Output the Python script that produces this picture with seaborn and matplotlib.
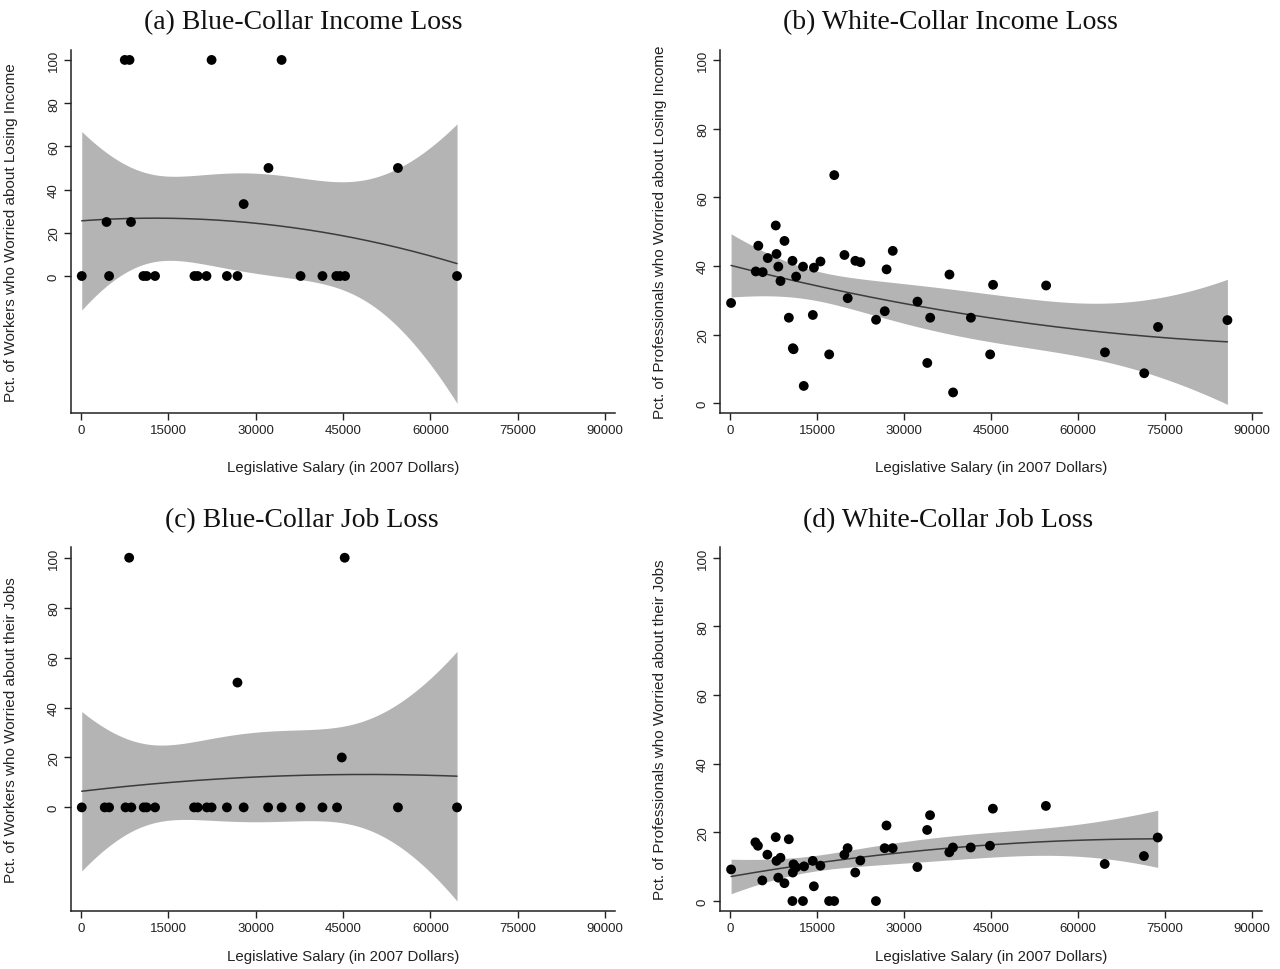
import numpy as np
import pandas as pd
import matplotlib
matplotlib.use("Agg")
import matplotlib.pyplot as plt
import seaborn as sns

# ---- data (salary in 2007 dollars, pct worried) ----
# (a) blue-collar income loss
bc_income_salary = [125, 4384, 4823, 7516, 8330, 8580, 10710, 11273, 12714, 19478,
                    20042, 21545, 22421, 25052, 26868, 27933, 32192, 34447, 37704,
                    41461, 43841, 44468, 45345, 54426, 64572]
bc_income_pct = [0, 25, 0, 100, 100, 25, 0, 0, 0, 0,
                 0, 0, 100, 0, 0, 33.3, 50, 100, 0,
                 0, 0, 0, 0, 50, 0]

# (b) white-collar income loss
wc_income_salary = [188, 4447, 4885, 5637, 6514, 7891, 8017, 8330, 8706, 9395,
                    10146, 10773, 10835, 10960, 11399, 12589, 12714, 14280, 14468,
                    15595, 17098, 17975, 19729, 20292, 21608, 22484, 25177, 26680,
                    26993, 28058, 32317, 34008, 34509, 37828, 38455, 41524, 44844,
                    45345, 54489, 64635, 71399, 73779, 85741]
wc_income_pct = [29.2, 38.4, 45.9, 38.2, 42.3, 51.8, 43.5, 39.8, 35.6, 47.3,
                 24.9, 41.5, 16.0, 15.7, 36.9, 39.8, 5.0, 25.7, 39.5,
                 41.3, 14.2, 66.5, 43.2, 30.6, 41.5, 41.1, 24.3, 26.8,
                 39.0, 44.4, 29.6, 11.7, 24.9, 37.5, 3.1, 24.9, 14.2,
                 34.5, 34.3, 14.8, 8.7, 22.2, 24.2]

# (c) blue-collar job loss
bc_job_salary = [125, 4071, 4823, 7641, 8267, 8643, 10773, 11273, 12714, 19415,
                 20042, 21608, 22422, 25052, 26868, 27933, 32129, 34447, 37704,
                 41461, 43967, 44781, 45282, 54426, 64572]
bc_job_pct = [0, 0, 0, 0, 100, 0, 0, 0, 0, 0,
              0, 0, 0, 0, 50, 0, 0, 0, 0,
              0, 0, 20, 100, 0, 0]

# (d) white-collar job loss
wc_job_salary = [188, 4381, 4819, 5570, 6447, 7886, 8011, 8324, 8700, 9388,
                 10139, 10765, 10828, 10953, 11391, 12580, 12768, 14270, 14458,
                 15584, 17086, 17962, 19715, 20278, 21592, 22469, 25160, 26662,
                 26975, 28039, 32295, 33985, 34485, 37803, 38428, 41495, 44812,
                 45313, 54451, 64590, 71349, 73727]
wc_job_pct = [9.2, 17.1, 16.1, 6.0, 13.5, 18.6, 11.7, 6.8, 12.6, 5.2,
              18.0, 0, 8.3, 10.7, 9.8, 0, 10.1, 11.7, 4.3,
              10.3, 0, 0, 13.5, 15.4, 8.3, 11.8, 0, 15.4,
              22.0, 15.4, 9.9, 20.7, 25.0, 14.2, 15.6, 15.6, 16.1,
              26.9, 27.7, 10.8, 13.1, 18.5]

titles = ["(a) Blue-Collar Income Loss", "(b) White-Collar Income Loss",
          "(c) Blue-Collar Job Loss", "(d) White-Collar Job Loss"]
ylabels = ["Pct. of Workers who Worried about Losing Income",
           "Pct. of Professionals who Worried about Losing Income",
           "Pct. of Workers who Worried about their Jobs",
           "Pct. of Professionals who Worried about their Jobs"]
xlabel = "Legislative Salary (in 2007 Dollars)"
xticks = [0, 15000, 30000, 45000, 60000, 75000, 90000]
yticks = [0, 20, 40, 60, 80, 100]


def t_quantile(df, z=1.959964):
    # Cornish-Fisher expansion of the 97.5% t quantile
    return (z + (z**3 + z) / (4 * df)
            + (5 * z**5 + 16 * z**3 + 3 * z) / (96 * df**2)
            + (3 * z**7 + 19 * z**5 + 17 * z**3 - 15 * z) / (384 * df**3))


def quad_fit_ci(x, y, n=300):
    """quadratic OLS fit with 95% CI of the mean prediction (like qfitci)"""
    x = np.asarray(x, float) / 1e4
    y = np.asarray(y, float)
    X = np.column_stack([np.ones_like(x), x, x**2])
    beta = np.linalg.lstsq(X, y, rcond=None)[0]
    resid = y - X @ beta
    dof = len(x) - 3
    cov = (resid @ resid / dof) * np.linalg.inv(X.T @ X)
    g = np.linspace(x.min(), x.max(), n)
    G = np.column_stack([np.ones_like(g), g, g**2])
    fit = G @ beta
    se = np.sqrt(np.einsum("ij,jk,ik->i", G, cov, G))
    t = t_quantile(dof)
    return pd.DataFrame({"salary": g * 1e4, "fit": fit,
                         "lo": fit - t * se, "hi": fit + t * se})


sns.set_style("ticks")
plt.rcParams["font.family"] = ["Liberation Sans", "DejaVu Sans"]

fig = plt.figure(figsize=(12.8, 9.7), dpi=100)
W, H = 1280.0, 970.0

# axes boxes in pixels: left, top, right, bottom
boxes = [(71, 51, 615, 414), (720, 51, 1262, 414),
         (71, 548, 615, 912), (720, 548, 1262, 912)]
ylims = [(-63.4, 104.6), (-2.9, 103.0), (-41.5, 104.3), (-2.9, 103.1)]
title_pos = [(303, 23), (950, 23), (302, 521), (948, 521)]
xlabel_pads = [17, 17, 11, 11]
panels = [(bc_income_salary, bc_income_pct), (wc_income_salary, wc_income_pct),
          (bc_job_salary, bc_job_pct), (wc_job_salary, wc_job_pct)]

for i, (xs, ys) in enumerate(panels):
    l, t, r, b = boxes[i]
    ax = fig.add_axes([l / W, 1 - b / H, (r - l) / W, (b - t) / H])
    df = pd.DataFrame({"salary": xs, "pct": ys})
    ci = quad_fit_ci(xs, ys)

    ax.fill_between(ci["salary"], ci["lo"], ci["hi"], color="#b4b4b4", lw=0, zorder=1)
    sns.lineplot(data=ci, x="salary", y="fit", ax=ax, color="#3c3c3c", lw=1.1, zorder=2)
    sns.scatterplot(data=df, x="salary", y="pct", ax=ax, color="black", s=50,
                    edgecolor="none", zorder=3)

    ax.set_xlim(-1720, 91700)
    ax.set_ylim(*ylims[i])
    ax.set_xticks(xticks)
    ax.set_yticks(yticks)
    ax.set_xticklabels([str(v) for v in xticks])
    ax.set_yticklabels([str(v) for v in yticks], rotation=90, va="center")
    ax.tick_params(axis="both", length=5, width=1, color="#222222",
                   labelsize=9.5, pad=3, labelcolor="#222222")

    sns.despine(ax=ax)
    for s in ["left", "bottom"]:
        ax.spines[s].set_linewidth(1.1)
        ax.spines[s].set_color("#222222")

    ax.set_xlabel(xlabel, fontsize=10.8, color="#222222", labelpad=xlabel_pads[i])
    ax.set_ylabel(ylabels[i], fontsize=11, color="#222222")
    ax.yaxis.set_label_coords(-0.098, 0.5)

    tx, ty = title_pos[i]
    fig.text(tx / W, 1 - ty / H, titles[i], ha="center", va="center",
             fontsize=20, color="#111111", family=["Liberation Serif", "DejaVu Serif"])

fig.savefig("out.png", dpi=100)
